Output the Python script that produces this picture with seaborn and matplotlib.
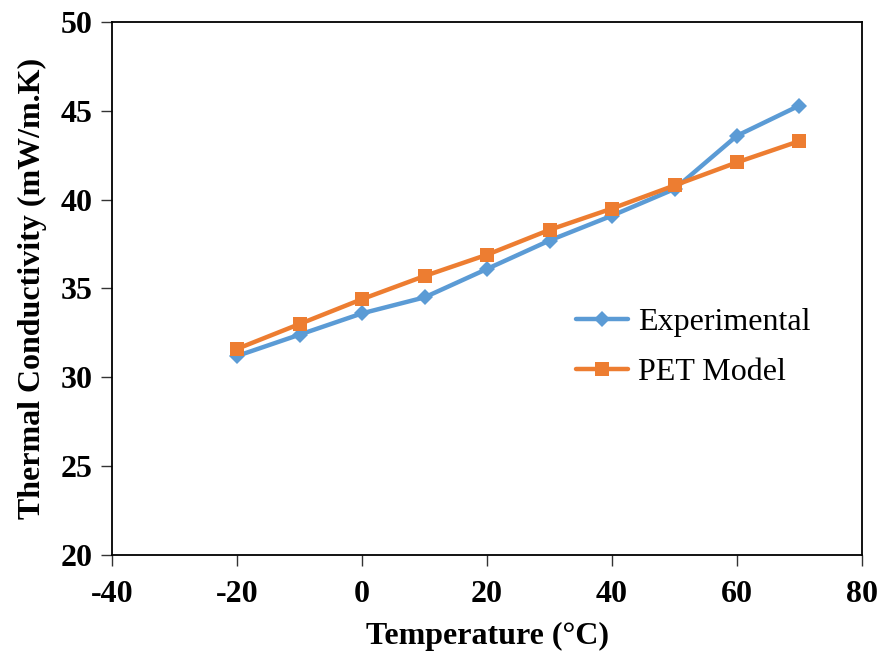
import matplotlib
matplotlib.use("Agg")
import matplotlib.pyplot as plt
import seaborn as sns
import pandas as pd

temperature = [-20, -10, 0, 10, 20, 30, 40, 50, 60, 70]
experimental = [31.2, 32.4, 33.6, 34.5, 36.1, 37.7, 39.1, 40.6, 43.6, 45.3]
pet_model = [31.6, 33.0, 34.4, 35.7, 36.9, 38.3, 39.5, 40.8, 42.1, 43.3]
series_names = ["Experimental", "PET Model"]
x_ticks = [-40, -20, 0, 20, 40, 60, 80]
y_ticks = [20, 25, 30, 35, 40, 45, 50]

sns.set_theme(style="white")
plt.rcParams['font.family'] = ['Liberation Serif', 'DejaVu Serif']
plt.rcParams['text.color'] = 'black'
plt.rcParams['axes.labelcolor'] = 'black'
plt.rcParams['xtick.color'] = 'black'
plt.rcParams['ytick.color'] = 'black'

df = pd.DataFrame({
    "Temperature": temperature * 2,
    "Value": experimental + pet_model,
    "Series": [series_names[0]] * len(temperature) + [series_names[1]] * len(temperature),
})

fig = plt.figure(figsize=(8.85, 6.57), dpi=100)
ax = fig.add_axes([0.1266, 0.1553, 0.8474, 0.8112])

colors = {"Experimental": "#5B9BD5", "PET Model": "#ED7D31"}
markers = {"Experimental": "D", "PET Model": "s"}
sizes_ms = {"Experimental": 8.5, "PET Model": 10.5}
for name in series_names:
    sub = df[df["Series"] == name]
    sns.lineplot(data=sub, x="Temperature", y="Value", ax=ax, color=colors[name],
                 marker=markers[name], markersize=sizes_ms[name], linewidth=3.2,
                 markeredgewidth=0, label=name)

ax.set_xlim(-40, 80)
ax.set_ylim(20, 50)
ax.set_xticks(x_ticks)
ax.set_yticks(y_ticks)
ax.set_xticklabels([str(t) for t in x_ticks], fontsize=23, fontweight="bold")
ax.set_yticklabels([str(t) for t in y_ticks], fontsize=23, fontweight="bold")
ax.set_xlabel("Temperature (°C)", fontsize=23, fontweight="bold", labelpad=9)
ax.set_ylabel("Thermal Conductivity (mW/m.K)", fontsize=23, fontweight="bold", labelpad=10)
ax.tick_params(axis="x", pad=10)

for s in ["top", "right", "left", "bottom"]:
    ax.spines[s].set_visible(True)
    ax.spines[s].set_color("black")
    ax.spines[s].set_linewidth(1.3)
ax.tick_params(axis="both", direction="out", length=8, width=1, color="#333333",
               bottom=True, left=True, top=False, right=False)
ax.tick_params(axis="y", pad=6)

leg = ax.legend(loc="center left", bbox_to_anchor=(0.58, 0.39), frameon=False,
                fontsize=23, handlelength=1.65, handletextpad=0.3, labelspacing=0.65)

fig.savefig("out.png", dpi=100)
